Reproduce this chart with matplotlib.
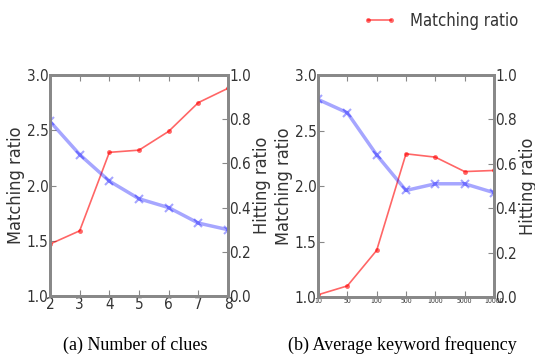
import matplotlib.pyplot as plt

plt.rcParams['font.family'] = ['DejaVu Sans']
plt.rcParams['font.stretch'] = 'condensed'

# (a) number of clues
clues = [2, 3, 4, 5, 6, 7, 8]
match_a = [1.47, 1.59, 2.30, 2.32, 2.49, 2.75, 2.88]
hit_a = [0.79, 0.64, 0.52, 0.44, 0.40, 0.33, 0.30]

# (b) average keyword frequency
freq_labels = ['10', '50', '100', '500', '1000', '5000', '10000']
match_b = [1.02, 1.10, 1.42, 2.29, 2.26, 2.13, 2.14]
hit_b = [0.89, 0.83, 0.64, 0.48, 0.51, 0.51, 0.47]

frame = '#888888'
txt = '#333333'
fig = plt.figure(figsize=(5.35, 3.58), dpi=100)


def panel(rect, x, match, hit, xticklabels=None, tick_fs=11):
    ax = fig.add_axes(rect)
    ax2 = ax.twinx()
    lm, = ax.plot(x, match, color='red', marker='o', markersize=3.5,
                  markeredgewidth=0, lw=1.2, alpha=0.6, label='Matching ratio')
    ax2.plot(x, hit, color='blue', marker='x', markersize=6,
             markeredgewidth=1.5, lw=2.5, alpha=0.35)
    ax.set_ylim(1.0, 3.0)
    ax.set_yticks([1.0, 1.5, 2.0, 2.5, 3.0])
    ax2.set_ylim(0.0, 1.0)
    ax2.set_yticks([0.0, 0.2, 0.4, 0.6, 0.8, 1.0])
    ax.set_xlim(x[0], x[-1])
    ax.set_xticks(x)
    if xticklabels is not None:
        ax.set_xticklabels(xticklabels, fontsize=5)
    else:
        ax.tick_params(axis='x', labelsize=tick_fs)
    ax.tick_params(axis='y', labelsize=tick_fs)
    ax2.tick_params(axis='y', labelsize=tick_fs)
    for a in (ax, ax2):
        a.tick_params(direction='in', length=4, color=frame, pad=1,
                      top=True, labelcolor=txt)
        for s in a.spines.values():
            s.set_color(frame)
            s.set_linewidth(2)
    ax.set_ylabel('Matching ratio', fontsize=13, color=txt, labelpad=1)
    ax2.set_ylabel('Hitting ratio', fontsize=13, color=txt, labelpad=1)
    return lm


lm = panel([50 / 535, 62 / 358, 178 / 535, 221 / 358], clues, match_a, hit_a)
panel([318 / 535, 61 / 358, 176 / 535, 222 / 358], list(range(len(freq_labels))),
      match_b, hit_b, xticklabels=freq_labels)

fig.legend(handles=[lm], loc='upper right', bbox_to_anchor=(0.99, 1.0),
           frameon=False, fontsize=12, handlelength=2.0, handletextpad=0.8,
           numpoints=2, borderaxespad=0.3, labelcolor=txt)

fig.text(135 / 535, 13 / 358, '(a) Number of clues', ha='center', va='center',
         family='Liberation Serif', stretch='normal', fontsize=13)
fig.text(402 / 535, 13 / 358, '(b) Average keyword frequency', ha='center',
         va='center', family='Liberation Serif', stretch='normal', fontsize=13)

fig.savefig('out.png', dpi=100)
